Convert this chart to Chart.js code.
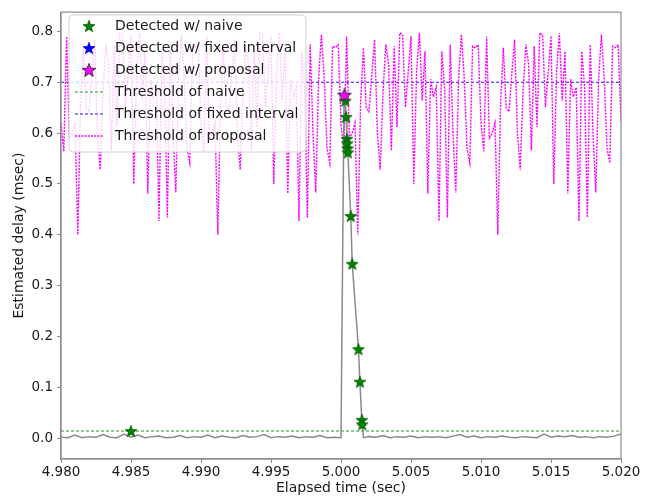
<!DOCTYPE html>
<html><head><meta charset="utf-8">
<script src="https://cdn.jsdelivr.net/npm/chart.js@4.4.0/dist/chart.umd.min.js"></script>
<style>html,body{margin:0;padding:0;background:#fff}#wrap{width:657px;height:499px}</style>
</head><body><div id="wrap"><canvas id="c" width="657" height="499"></canvas></div>
<script>
// ---------- data ----------
const xTicks = [4.980, 4.985, 4.990, 4.995, 5.000, 5.005, 5.010, 5.015, 5.020];
const yTicks = [0.0, 0.1, 0.2, 0.3, 0.4, 0.5, 0.6, 0.7, 0.8];

const seriesLabels = ['Detected w/ naive', 'Detected w/ fixed interval', 'Detected w/ proposal',
  'Threshold of naive', 'Threshold of fixed interval', 'Threshold of proposal'];

const delayTimes = [
  4.9800, 4.9805, 4.9810, 4.9815, 4.9820, 4.9825, 4.9830, 4.9835, 4.9840, 4.9845,
  4.9850, 4.9855, 4.9860, 4.9865, 4.9870, 4.9875, 4.9880, 4.9885, 4.9890, 4.9895,
  4.9900, 4.9905, 4.9910, 4.9915, 4.9920, 4.9925, 4.9930, 4.9935, 4.9940, 4.9945,
  4.9950, 4.9955, 4.9960, 4.9965, 4.9970, 4.9975, 4.9980, 4.9985, 4.9990, 4.9995,
  5.0000, 5.00022, 5.00030, 5.00037, 5.00042, 5.00049, 5.00070, 5.00080, 5.00125, 5.00135,
  5.00149, 5.00152, 5.00160, 5.0020, 5.0025, 5.0030, 5.0035, 5.0040, 5.0045, 5.0050,
  5.0055, 5.0060, 5.0065, 5.0070, 5.0075, 5.0080, 5.0085, 5.0090, 5.0095, 5.0100,
  5.0105, 5.0110, 5.0115, 5.0120, 5.0125, 5.0130, 5.0135, 5.0140, 5.0145, 5.0150,
  5.0155, 5.0160, 5.0165, 5.0170, 5.0175, 5.0180, 5.0185, 5.0190, 5.0195, 5.0200];
const delayValues = [
  0.002, 0.001, 0.006, 0.001, 0.003, 0.002, 0.007, 0.002, 0.001, 0.008,
  0.002, 0.006, 0.001, 0.003, 0.004, 0.001, 0.002, 0.005, 0.001, 0.003,
  0.002, 0.006, 0.001, 0.004, 0.002, 0.001, 0.005, 0.002, 0.003, 0.007,
  0.001, 0.003, 0.002, 0.004, 0.001, 0.003, 0.002, 0.005, 0.001, 0.002,
  0.001, 0.676, 0.664, 0.632, 0.589, 0.562, 0.437, 0.343, 0.175, 0.111,
  0.036, 0.027, 0.001, 0.003, 0.002, 0.005, 0.001, 0.003, 0.002, 0.004,
  0.001, 0.003, 0.002, 0.003, 0.001, 0.004, 0.007, 0.002, 0.004, 0.001,
  0.003, 0.002, 0.004, 0.002, 0.001, 0.003, 0.002, 0.001, 0.008, 0.002,
  0.004, 0.003, 0.005, 0.002, 0.003, 0.001, 0.003, 0.002, 0.004, 0.008];

const naiveTimes  = [4.98500, 5.00030, 5.00037, 5.00042, 5.00045, 5.00047, 5.00049, 5.00070, 5.00080, 5.00125, 5.00135, 5.00149, 5.00151];
const naiveValues = [0.014, 0.664, 0.632, 0.589, 0.580, 0.570, 0.562, 0.437, 0.343, 0.175, 0.111, 0.036, 0.027];
const fixedTimes  = [];
const fixedValues = [];
const proposalTimes  = [5.00025];
const proposalValues = [0.675];

const naiveThreshold = 0.014;
const fixedThreshold = 0.700;

const proposalStart = 4.980;
const proposalStep = 0.0002;
const proposalThreshold = [
  0.62, 0.564, 0.79, 0.59, 0.60, 0.62, 0.40, 0.66, 0.768, 0.65,
  0.642, 0.716, 0.784, 0.60, 0.528, 0.68, 0.774, 0.735, 0.566, 0.771,
  0.612, 0.797, 0.794, 0.651, 0.72, 0.791, 0.50, 0.722, 0.797, 0.664,
  0.761, 0.481, 0.706, 0.671, 0.69, 0.427, 0.761, 0.69, 0.434, 0.774,
  0.60, 0.483, 0.706, 0.794, 0.709, 0.57, 0.541, 0.771, 0.768, 0.774,
  0.62, 0.564, 0.79, 0.59, 0.60, 0.62, 0.40, 0.66, 0.768, 0.65,
  0.642, 0.716, 0.784, 0.60, 0.528, 0.68, 0.774, 0.735, 0.566, 0.771,
  0.612, 0.797, 0.794, 0.651, 0.72, 0.791, 0.50, 0.722, 0.797, 0.664,
  0.761, 0.481, 0.706, 0.671, 0.69, 0.427, 0.761, 0.69, 0.434, 0.774,
  0.60, 0.483, 0.706, 0.794, 0.709, 0.57, 0.541, 0.771, 0.768, 0.774,
  0.62, 0.564, 0.79, 0.59, 0.60, 0.62, 0.40, 0.66, 0.768, 0.65,
  0.642, 0.716, 0.784, 0.60, 0.528, 0.68, 0.774, 0.735, 0.566, 0.771,
  0.612, 0.797, 0.794, 0.651, 0.72, 0.791, 0.50, 0.722, 0.797, 0.664,
  0.761, 0.481, 0.706, 0.671, 0.69, 0.427, 0.761, 0.69, 0.434, 0.774,
  0.60, 0.483, 0.706, 0.794, 0.709, 0.57, 0.541, 0.771, 0.768, 0.774,
  0.62, 0.564, 0.79, 0.59, 0.60, 0.62, 0.40, 0.66, 0.768, 0.65,
  0.642, 0.716, 0.784, 0.60, 0.528, 0.68, 0.774, 0.735, 0.566, 0.771,
  0.612, 0.797, 0.794, 0.651, 0.72, 0.791, 0.50, 0.722, 0.797, 0.664,
  0.761, 0.481, 0.706, 0.671, 0.69, 0.427, 0.761, 0.69, 0.434, 0.774,
  0.60, 0.483, 0.706, 0.794, 0.709, 0.57, 0.541, 0.771, 0.768, 0.774,
  0.62];

// ---------- styles ----------
const C_GREEN = '#0a8a0a', C_BLUE = '#1a1aff', C_MAG = '#ff00ff', C_GRAY = '#8a8a8a';
const TXT = '#1a1a1a', FRAME = '#8c8c8c';

function makeStar(size, fill, stroke, lw) {
  const c = document.createElement('canvas');
  c.width = size; c.height = size;
  const g = c.getContext('2d');
  const cx = size / 2, cy = size / 2 + 0.6, R = size / 2 - 0.8, r = R * 0.42;
  g.beginPath();
  for (let i = 0; i < 10; i++) {
    const a = -Math.PI / 2 + i * Math.PI / 5;
    const rr = i % 2 === 0 ? R : r;
    const px = cx + rr * Math.cos(a), py = cy + rr * Math.sin(a);
    i === 0 ? g.moveTo(px, py) : g.lineTo(px, py);
  }
  g.closePath();
  g.fillStyle = fill; g.fill();
  g.lineWidth = lw; g.strokeStyle = stroke; g.stroke();
  return c;
}
const starGreen = makeStar(14, '#008000', '#006000', 0.8);
const starBlue = makeStar(14, '#0000ff', '#0000c0', 0.8);
const starMag = makeStar(16, '#ff00ff', '#333333', 1.0);

const pts = (xs, ys) => xs.map((x, i) => ({x: x, y: ys[i]}));
const propPts = proposalThreshold.map((v, i) => ({x: proposalStart + i * proposalStep, y: v}));

const legendPlugin = {
  id: 'mplFrameLegend',
  afterDraw(chart) {
    const ctx = chart.ctx, a = chart.chartArea;
    ctx.save();
    ctx.strokeStyle = FRAME; ctx.lineWidth = 1.2;
    ctx.strokeRect(a.left, a.top, a.right - a.left, a.bottom - a.top);
    const bx = 69, by = 15, bw = 237, bh = 137, rad = 4;
    ctx.beginPath();
    ctx.moveTo(bx + rad, by); ctx.lineTo(bx + bw - rad, by); ctx.quadraticCurveTo(bx + bw, by, bx + bw, by + rad);
    ctx.lineTo(bx + bw, by + bh - rad); ctx.quadraticCurveTo(bx + bw, by + bh, bx + bw - rad, by + bh);
    ctx.lineTo(bx + rad, by + bh); ctx.quadraticCurveTo(bx, by + bh, bx, by + bh - rad);
    ctx.lineTo(bx, by + rad); ctx.quadraticCurveTo(bx, by, bx + rad, by);
    ctx.closePath();
    ctx.fillStyle = 'rgba(255,255,255,0.8)'; ctx.fill();
    ctx.strokeStyle = 'rgba(204,204,204,0.9)'; ctx.lineWidth = 1; ctx.stroke();
    const ds = chart.data.datasets;
    ctx.font = '14px "DejaVu Sans"';
    ctx.textBaseline = 'middle'; ctx.textAlign = 'left';
    [0, 1, 2, 3, 4, 5].forEach((k, i) => {
      const d = ds.find(q => q.legendIndex === k);
      const y = 26 + i * 22;
      if (d.legendStar) {
        ctx.drawImage(d.legendStar, 89 - d.legendStar.width / 2, y - d.legendStar.height / 2);
      } else {
        ctx.beginPath(); ctx.setLineDash(d.borderDash); ctx.strokeStyle = d.borderColor; ctx.lineWidth = d.borderWidth;
        ctx.moveTo(75, y); ctx.lineTo(103, y); ctx.stroke(); ctx.setLineDash([]);
      }
      ctx.fillStyle = TXT;
      ctx.fillText(d.label, 115, y + 0.5);
    });
    ctx.restore();
  }
};

new Chart(document.getElementById('c'), {
  type: 'scatter',
  data: {
    datasets: [
      {label: seriesLabels[2], legendIndex: 2, legendStar: starMag, data: pts(proposalTimes, proposalValues), pointStyle: starMag, showLine: false, order: 0},
      {label: seriesLabels[1], legendIndex: 1, legendStar: starBlue, data: pts(fixedTimes, fixedValues), pointStyle: starBlue, showLine: false, order: 1},
      {label: seriesLabels[0], legendIndex: 0, legendStar: starGreen, data: pts(naiveTimes, naiveValues), pointStyle: starGreen, showLine: false, order: 2},
      {label: 'delay', legendIndex: -1, data: pts(delayTimes, delayValues), showLine: true, borderColor: C_GRAY, borderWidth: 1.5, pointRadius: 0, order: 3},
      {label: seriesLabels[5], legendIndex: 5, data: propPts, showLine: true, borderColor: C_MAG, borderWidth: 1.4, borderDash: [2, 1.2], pointRadius: 0, order: 4},
      {label: seriesLabels[4], legendIndex: 4, data: [{x: xTicks[0], y: fixedThreshold}, {x: xTicks[xTicks.length - 1], y: fixedThreshold}], showLine: true, borderColor: C_BLUE, borderWidth: 1, borderDash: [3, 2], pointRadius: 0, order: 5},
      {label: seriesLabels[3], legendIndex: 3, data: [{x: xTicks[0], y: naiveThreshold}, {x: xTicks[xTicks.length - 1], y: naiveThreshold}], showLine: true, borderColor: '#2a9a2a', borderWidth: 1, borderDash: [3, 2], pointRadius: 0, order: 6}
    ]
  },
  options: {
    responsive: false, animation: false,
    layout: {padding: {top: 7, right: 36, left: 0, bottom: 0}},
    plugins: {legend: {display: false}, tooltip: {enabled: false}},
    elements: {line: {tension: 0}},
    scales: {
      x: {
        type: 'linear', min: 4.98, max: 5.02,
        afterBuildTicks: s => { s.ticks = xTicks.map(v => ({value: v})); },
        afterFit: s => { s.height = 40; },
        ticks: {callback: v => Number(v).toFixed(3), color: TXT, font: {family: 'DejaVu Sans', size: 13.5}, padding: 1, maxRotation: 0, autoSkip: false},
        grid: {drawOnChartArea: false, drawTicks: true, tickLength: 4, color: FRAME},
        border: {display: true, color: FRAME, width: 1.2},
        title: {display: true, text: 'Elapsed time (sec)', color: TXT, font: {family: 'DejaVu Sans', size: 14}, padding: {top: 0, bottom: 2}}
      },
      y: {
        type: 'linear', min: -0.041, max: 0.838,
        afterBuildTicks: s => { s.ticks = yTicks.map(v => ({value: v})); },
        afterFit: s => { s.width = 61; },
        ticks: {callback: v => Number(v).toFixed(1), color: TXT, font: {family: 'DejaVu Sans', size: 13.5}, padding: 4, autoSkip: false},
        grid: {drawOnChartArea: false, drawTicks: true, tickLength: 4, color: FRAME},
        border: {display: true, color: FRAME, width: 1.2},
        title: {display: true, text: 'Estimated delay (msec)', color: TXT, font: {family: 'DejaVu Sans', size: 14}, padding: {top: 11, bottom: 0}}
      }
    }
  },
  plugins: [legendPlugin]
});
</script>
</body></html>
